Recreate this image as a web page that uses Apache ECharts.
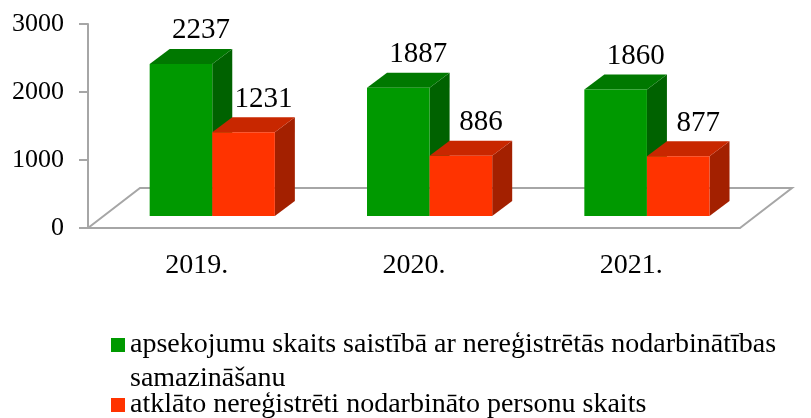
<!DOCTYPE html>
<html>
<head>
<meta charset="utf-8">
<script src="https://cdn.jsdelivr.net/npm/echarts@6/dist/echarts.min.js"></script>
<style>
  html, body { margin: 0; padding: 0; background: #fff; }
  #chart { width: 811px; height: 418px; }
</style>
</head>
<body>
<div id="chart"></div>
<script>
// data
var years = ['2019.', '2020.', '2021.']
var inspections = [2237, 1887, 1860]
var detected = [1231, 886, 877]
var seriesNames = [
  'apsekojumu skaits saistībā ar nereģistrētās nodarbinātības\nsamazināšanu',
  'atklāto nereģistrēti nodarbināto personu skaits'
]
var yTicks = [0, 1000, 2000, 3000]

var FONT = '"Liberation Serif", "Times New Roman", serif'
// fake 3d depth
var FLOOR_DX = 52, FLOOR_DY = 40   // floor depth
var FRONT_DX = 15.6, FRONT_DY = 12 // where bar fronts stand on the floor
var BAR_DX = 20, BAR_DY = 15       // bar depth
var BAR_W = 0.288                  // bar width, part of a category

var palette = [
  { front: '#009900', top: '#007800', side: '#006200' },
  { front: '#ff3300', top: '#c82700', side: '#a32000' }
]

function renderFloor(params, api) {
  var cs = params.coordSys
  var x0 = cs.x, x1 = cs.x + cs.width, yb = cs.y + cs.height
  return {
    type: 'polyline',
    silent: true,
    shape: { points: [[x0, yb], [x0 + FLOOR_DX, yb - FLOOR_DY], [x1 + FLOOR_DX, yb - FLOOR_DY], [x1, yb]] },
    style: { stroke: '#a6a6a6', lineWidth: 2, fill: null }
  }
}

function makeBar(idx) {
  var c = palette[idx]
  return function (params, api) {
    var cat = api.value(0), val = api.value(1)
    var base = api.coord([cat, 0])
    var top = api.coord([cat, val])
    var h = base[1] - top[1]
    var bw = api.size([1, 0])[0] * BAR_W
    var left = base[0] + FRONT_DX + (idx === 0 ? -bw : 0)
    var yb = base[1] - FRONT_DY
    var yt = yb - h
    var r = left + bw
    return {
      type: 'group',
      children: [
        {
          type: 'polygon',
          shape: { points: [[r, yt], [r + BAR_DX, yt - BAR_DY], [r + BAR_DX, yb - BAR_DY], [r, yb]] },
          style: { fill: c.side }
        },
        {
          type: 'polygon',
          shape: { points: [[left, yt], [r, yt], [r + BAR_DX, yt - BAR_DY], [left + BAR_DX, yt - BAR_DY]] },
          style: { fill: c.top }
        },
        {
          type: 'rect',
          shape: { x: left, y: yt, width: bw, height: h },
          style: { fill: c.front }
        },
        {
          type: 'text',
          x: left + bw / 2 + BAR_DX,
          y: yt - BAR_DY - 18,
          style: {
            text: String(val),
            fill: '#000',
            fontFamily: FONT,
            fontSize: 29,
            align: 'center',
            verticalAlign: 'middle'
          }
        }
      ]
    }
  }
}

var chart = echarts.init(document.getElementById('chart'))
chart.setOption({
  animation: false,
  grid: { left: 88, right: 71, top: 24, bottom: 190 },
  legend: [{
    data: [seriesNames[0]],
    left: 111,
    top: 331,
    padding: 0,
    icon: 'rect',
    itemWidth: 14,
    itemHeight: 14,
    selectedMode: false,
    formatter: function (name) {
      return name.split('\n').map(function (s) { return '{t|' + s + '}' }).join('\n')
    },
    textStyle: {
      padding: [34, 0, 0, 0],
      rich: { t: { fontFamily: FONT, fontSize: 28, color: '#000', lineHeight: 34 } }
    }
  }, {
    data: [seriesNames[1]],
    left: 111,
    top: 391,
    padding: 0,
    icon: 'rect',
    itemWidth: 14,
    itemHeight: 14,
    selectedMode: false,
    textStyle: { fontFamily: FONT, fontSize: 28, color: '#000' }
  }],
  xAxis: {
    type: 'category',
    data: years,
    boundaryGap: true,
    axisLine: { lineStyle: { color: '#a6a6a6', width: 2 } },
    axisTick: { length: 9, lineStyle: { color: '#a6a6a6', width: 2 } },
    axisLabel: { color: '#000', fontFamily: FONT, fontSize: 28, margin: 24 }
  },
  yAxis: {
    type: 'value',
    min: yTicks[0],
    max: yTicks[yTicks.length - 1],
    interval: 1000,
    axisLine: { show: true, lineStyle: { color: '#a6a6a6', width: 2 } },
    axisTick: { show: true, length: 9, lineStyle: { color: '#a6a6a6', width: 2 } },
    splitLine: { show: false },
    axisLabel: {
      color: '#000', fontFamily: FONT, fontSize: 26, margin: 24,
      formatter: function (v) { return String(v) }
    }
  },
  series: [{
    type: 'custom',
    silent: true,
    z: 1,
    data: [[0, 0]],
    renderItem: renderFloor
  }, {
    type: 'custom',
    name: seriesNames[0],
    itemStyle: { color: palette[0].front },
    data: years.map(function (y, i) { return [i, inspections[i]] }),
    renderItem: makeBar(0)
  }, {
    type: 'custom',
    name: seriesNames[1],
    itemStyle: { color: palette[1].front },
    data: years.map(function (y, i) { return [i, detected[i]] }),
    renderItem: makeBar(1)
  }]
})
</script>
</body>
</html>
